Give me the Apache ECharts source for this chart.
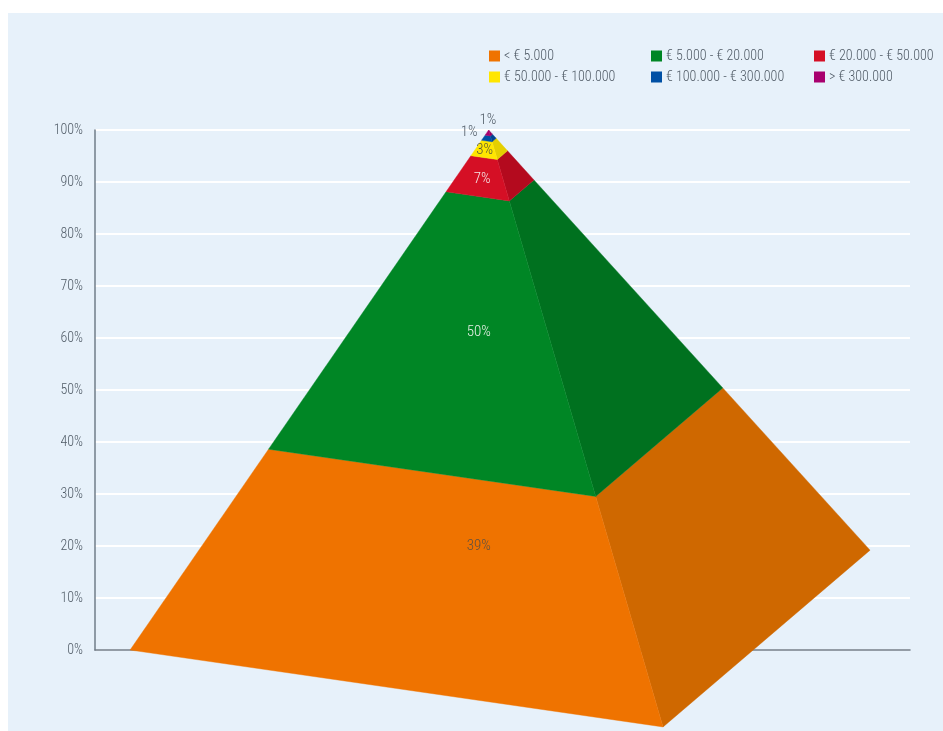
<!DOCTYPE html>
<html><head><meta charset="utf-8">
<style>html,body{margin:0;padding:0;background:#fff}#c{width:943px;height:731px}</style>
<script src="https://cdn.jsdelivr.net/npm/echarts@6/dist/echarts.min.js"></script>
</head><body><div id="c"></div>
<script>
const categories = ['< € 5.000','€ 50.000 - € 100.000','€ 5.000 - € 20.000','€ 100.000 - € 300.000','€ 20.000 - € 50.000','> € 300.000'];
const bandNames = ['< € 5.000','€ 5.000 - € 20.000','€ 20.000 - € 50.000','€ 50.000 - € 100.000','€ 100.000 - € 300.000','> € 300.000'];
const shares = [39,50,7,3,1,1];
const frontColors = ['#EF7300','#008625','#D50F25','#FFE600','#0050A5','#A8006E'];
const sideColors = ['#CF6800','#00711F','#B40A1E','#E5CF00','#004490','#90005E'];
const labelColors = ['#5f5040','#e8f0e8','#f5e6e6','#55553a','#505b66','#505b66'];
const labelX = [47.1,47.1,47.5,47.8,45.9,48.2];
const labelY = [20.0,61.1,90.6,96.1,99.5,101.8];
// pyramid corners on the axes' scales (x 0-100, y 0-100%)
const apex = [48.3,100], baseLeft = [4.3,0], baseFront = [69.7,-14.8], baseRight = [95.1,19.2];

const total = shares.reduce((a,b)=>a+b,0);
let run = 0;
const bands = shares.map(s=>{const f=run/total; run+=s; return [f,run/total];});
const lerp=(p,t)=>[p[0]+(apex[0]-p[0])*t,p[1]+(apex[1]-p[1])*t];
const FONT='"Roboto Condensed","Open Sans",sans-serif';

const series = bandNames.map((name,i)=>({
  name, type:'custom', coordinateSystem:'cartesian2d', clip:false, z:5,
  itemStyle:{color:frontColors[i]},
  data:[[labelX[i],labelY[i]]],
  encode:{x:0,y:1},
  renderItem(params,api){
    const [a,b]=bands[i];
    const poly=(p1,p2,color)=>({type:'polygon',
      shape:{points:[lerp(p1,a),lerp(p2,a),lerp(p2,b),lerp(p1,b)].map(p=>api.coord(p))},
      style:{fill:color,stroke:color,lineWidth:0.4}});
    const lp=api.coord([labelX[i],labelY[i]]);
    return {type:'group',children:[
      poly(baseFront,baseRight,sideColors[i]),
      poly(baseLeft,baseFront,frontColors[i]),
      {type:'text',z2:20,x:lp[0],y:lp[1],style:{text:shares[i]+'%',fill:labelColors[i],font:'300 15px '+FONT,align:'center',verticalAlign:'middle'}}
    ]};
  }
}));

const legendCol=(left,names)=>({show:true,orient:'vertical',left,top:49,itemWidth:11,itemHeight:11,itemGap:7,icon:'rect',
  selectedMode:false,data:names,textStyle:{color:'#505b66',fontFamily:FONT,fontWeight:300,fontSize:14,padding:[0,0,0,-1]},padding:0});

const chart=echarts.init(document.getElementById('c'),null,{renderer:'canvas'});
chart.setOption({
  animation:false,backgroundColor:'#fff',
  graphic:[{type:'rect',z:-10,silent:true,shape:{x:8,y:13,width:935,height:718},style:{fill:'#E7F1FA'}}],
  grid:{left:95,right:33,top:130,bottom:81,containLabel:false},
  legend:[legendCol(489,categories.slice(0,2)),legendCol(651,categories.slice(2,4)),legendCol(814,categories.slice(4,6))],
  xAxis:{type:'value',min:0,max:100,axisLabel:{show:false},axisTick:{show:false},splitLine:{show:false},
    axisLine:{show:true,onZero:false,lineStyle:{color:'#707C88',width:1.5}}},
  yAxis:{type:'value',min:0,max:100,interval:10,
    axisLabel:{formatter:'{value}%',color:'#505b66',fontFamily:FONT,fontWeight:300,fontSize:14,margin:12},
    axisTick:{show:false},
    axisLine:{show:true,lineStyle:{color:'#707C88',width:1.5}},
    splitLine:{show:true,lineStyle:{color:'#fff',width:2}}},
  series
});
</script></body></html>
